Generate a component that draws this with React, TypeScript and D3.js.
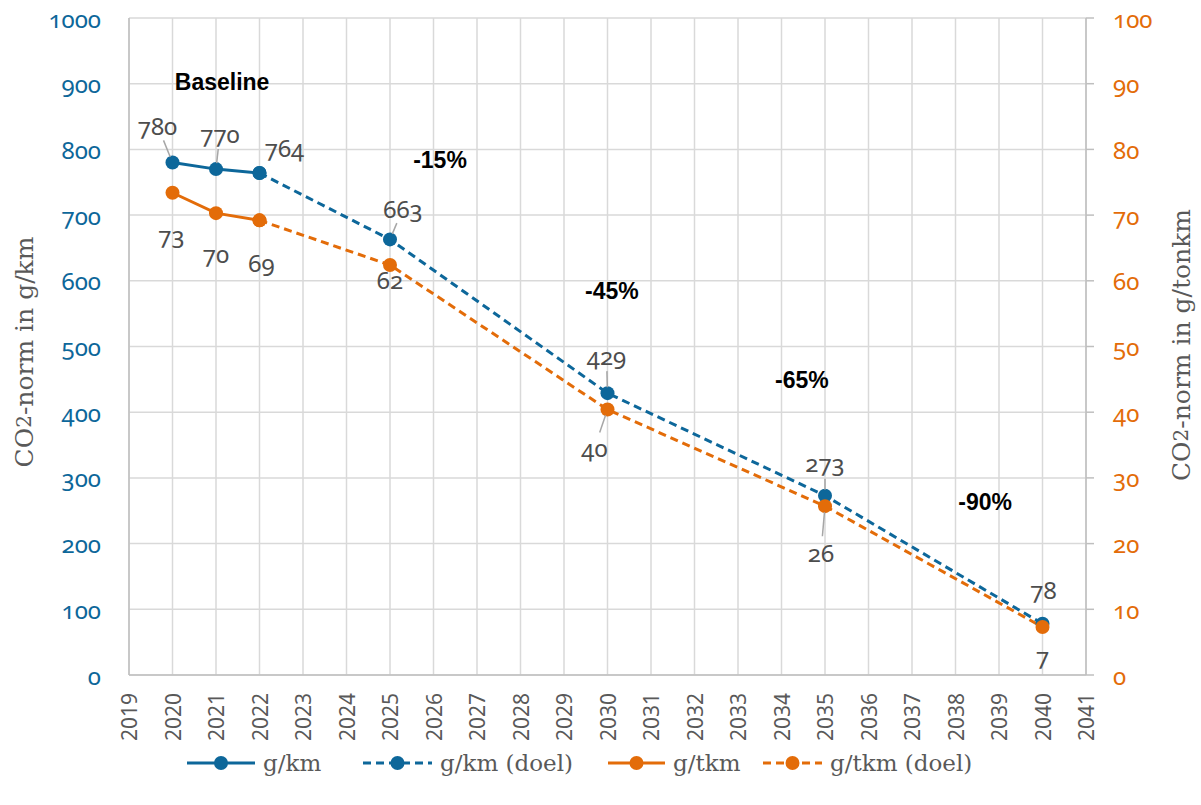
import React from "react";
import * as d3 from "d3";

const years = d3.range(2019, 2042);
const gkmYears = [2020, 2021, 2022];
const gkmValues = [780, 770, 764];
const gkmGoalYears = [2022, 2025, 2030, 2035, 2040];
const gkmGoalValues = [764, 663, 429, 273, 78];
const gtkmYears = [2020, 2021, 2022];
const gtkmValues = [73.4, 70.3, 69.2];
const gtkmGoalYears = [2022, 2025, 2030, 2035, 2040];
const gtkmGoalValues = [69.2, 62.4, 40.4, 25.7, 7.3];
const leftTicks = [0, 100, 200, 300, 400, 500, 600, 700, 800, 900, 1000];
const rightTicks = [0, 10, 20, 30, 40, 50, 60, 70, 80, 90, 100];
const annotations = [
  { year: 2021.14, value: 903, text: "Baseline" },
  { year: 2026.15, value: 784, text: "-15%" },
  { year: 2030.1, value: 584, text: "-45%" },
  { year: 2034.47, value: 449, text: "-65%" },
  { year: 2038.68, value: 263, text: "-90%" },
];
const legendItems = [
  { label: "g/km", color: "blue", dashed: false },
  { label: "g/km (doel)", color: "blue", dashed: true },
  { label: "g/tkm", color: "orange", dashed: false },
  { label: "g/tkm (doel)", color: "orange", dashed: true },
];

// label placement (dx, dy, leader) for each labelled point
const gkmLabelPos: Record<number, [number, number, boolean]> = {
  2020: [-15, -37, true],
  2021: [4, -36, true],
  2022: [25, -26, false],
  2025: [13, -31, true],
  2030: [-1, -38, true],
  2035: [0, -33, true],
  2040: [1, -34, false],
};
const gtkmLabelPos: Record<number, [number, number, boolean]> = {
  2020: [-1, 42, false],
  2021: [0, 40, false],
  2022: [2, 42, false],
  2025: [0, 14, false],
  2030: [-13, 38, true],
  2035: [-4, 46, true],
  2040: [0, 28, false],
};

const BLUE = "#0d679a";
const ORANGE = "#e36c09";
const W = 1201;
const H = 805;
const M = { left: 129, right: 1086, top: 18, bottom: 675 };

export default function App() {
  const x = d3.scaleLinear().domain([2019, 2041]).range([M.left, M.right]);
  const yL = d3.scaleLinear().domain([0, 1000]).range([M.bottom, M.top]);
  const yR = d3.scaleLinear().domain([0, 100]).range([M.bottom, M.top]);
  const lineL = d3.line<[number, number]>().x((d) => x(d[0])).y((d) => yL(d[1]));
  const lineR = d3.line<[number, number]>().x((d) => x(d[0])).y((d) => yR(d[1]));
  const z = <T,>(a: number[], b: T[]) => a.map((v, i) => [v, b[i]] as [number, T]);

  const gkmPts = z(gkmYears, gkmValues);
  const gkmGoalPts = z(gkmGoalYears, gkmGoalValues);
  const gtkmPts = z(gtkmYears, gtkmValues);
  const gtkmGoalPts = z(gtkmGoalYears, gtkmGoalValues);

  const numFont = "'Noto Sans', sans-serif";
  const serif = "'DejaVu Serif', serif";

  const renderLabels = (
    pts: [number, number][],
    y: d3.ScaleLinear<number, number>,
    pos: Record<number, [number, number, boolean]>
  ) =>
    pts.map(([yr, v]) => {
      const p = pos[yr];
      if (!p) return null;
      const px = x(yr);
      const py = y(v);
      const lx = px + p[0];
      const ly = py + p[1];
      const dist = Math.hypot(p[0], p[1]);
      const ux = p[0] / dist;
      const uy = p[1] / dist;
      return (
        <g key={yr}>
          {p[2] && (
            <line
              x1={px + ux * 6}
              y1={py + uy * 6}
              x2={lx - ux * 16}
              y2={ly - uy * 16}
              stroke="#a6a6a6"
              strokeWidth={1.5}
            />
          )}
          <text
            x={lx}
            y={ly}
            textAnchor="middle"
            dominantBaseline="central"
            fontFamily={numFont}
            fontSize={24}
            fill="#4d4d4d"
            style={{ fontVariantNumeric: "oldstyle-nums" }}
          >
            {Math.round(v)}
          </text>
        </g>
      );
    });

  const legendX = [187, 363, 608, 763];
  const legendW = [68, 69, 57, 59];

  return (
    <svg width={W} height={H} style={{ position: "absolute", left: 0, top: 0, background: "#fff" }}>
      {/* grid */}
      {leftTicks.map((t) => (
        <line key={"h" + t} x1={M.left} x2={M.right} y1={yL(t)} y2={yL(t)} stroke="#d9d9d9" strokeWidth={1.5} />
      ))}
      {years.map((yr) => (
        <line key={"v" + yr} x1={x(yr)} x2={x(yr)} y1={M.top} y2={M.bottom} stroke="#d9d9d9" strokeWidth={1.5} />
      ))}
      {/* axes */}
      <line x1={M.left} x2={M.left} y1={M.top} y2={M.bottom} stroke="#bfbfbf" strokeWidth={1.5} />
      <line x1={M.right} x2={M.right} y1={M.top} y2={M.bottom} stroke="#bfbfbf" strokeWidth={1.5} />
      <line x1={M.left} x2={M.right} y1={M.bottom} y2={M.bottom} stroke="#bfbfbf" strokeWidth={1.5} />
      {rightTicks.map((t) => (
        <line key={"rt" + t} x1={M.right} x2={M.right + 8} y1={yR(t)} y2={yR(t)} stroke="#bfbfbf" strokeWidth={1.5} />
      ))}
      {/* left tick labels */}
      {leftTicks.map((t) => (
        <text
          key={"lt" + t}
          x={101}
          y={yL(t)}
          textAnchor="end"
          dominantBaseline="central"
          fontFamily={numFont}
          fontSize={24}
          fill={BLUE}
          style={{ fontVariantNumeric: "oldstyle-nums" }}
        >
          {t}
        </text>
      ))}
      {rightTicks.map((t) => (
        <text
          key={"rl" + t}
          x={1113}
          y={yR(t)}
          textAnchor="start"
          dominantBaseline="central"
          fontFamily={numFont}
          fontSize={24}
          fill={ORANGE}
          style={{ fontVariantNumeric: "oldstyle-nums" }}
        >
          {t}
        </text>
      ))}
      {/* x tick labels */}
      {years.map((yr) => (
        <text
          key={"xl" + yr}
          transform={`translate(${x(yr)},${M.bottom + 18}) rotate(-90)`}
          textAnchor="end"
          dominantBaseline="central"
          fontFamily={numFont}
          fontSize={21}
          fill="#595959"
        >
          {yr}
        </text>
      ))}
      {/* axis titles */}
      <text
        transform={`translate(24,352) rotate(-90)`}
        textAnchor="middle"
        dominantBaseline="central"
        fontFamily={serif}
        fontSize={25}
        fill="#595959"
      >
        CO<tspan fontSize={20}>2</tspan>-norm in g/km
      </text>
      <text
        transform={`translate(1181,345) rotate(-90)`}
        textAnchor="middle"
        dominantBaseline="central"
        fontFamily={serif}
        fontSize={25}
        fill="#595959"
      >
        CO<tspan fontSize={20}>2</tspan>-norm in g/tonkm
      </text>
      {/* lines */}
      <path d={lineL(gkmGoalPts) || ""} fill="none" stroke={BLUE} strokeWidth={3} strokeDasharray="8 5" />
      <path d={lineR(gtkmGoalPts) || ""} fill="none" stroke={ORANGE} strokeWidth={3} strokeDasharray="8 5" />
      <path d={lineL(gkmPts) || ""} fill="none" stroke={BLUE} strokeWidth={3} />
      <path d={lineR(gtkmPts) || ""} fill="none" stroke={ORANGE} strokeWidth={3} />
      {/* markers */}
      {gkmGoalPts.concat(gkmPts).map(([yr, v], i) => (
        <circle key={"bm" + i} cx={x(yr)} cy={yL(v)} r={7} fill={BLUE} />
      ))}
      {gtkmGoalPts.concat(gtkmPts).map(([yr, v], i) => (
        <circle key={"om" + i} cx={x(yr)} cy={yR(v)} r={7} fill={ORANGE} />
      ))}
      {/* data labels */}
      {renderLabels(gkmPts.concat(gkmGoalPts.slice(1)), yL, gkmLabelPos)}
      {renderLabels(gtkmPts.concat(gtkmGoalPts.slice(1)), yR, gtkmLabelPos)}
      {/* annotations */}
      {annotations.map((a) => (
        <text
          key={a.text}
          x={x(a.year)}
          y={yL(a.value)}
          textAnchor="middle"
          dominantBaseline="central"
          fontFamily="'Liberation Sans', Arial, sans-serif"
          fontWeight="bold"
          fontSize={23}
          fill="#000"
        >
          {a.text}
        </text>
      ))}
      {/* legend */}
      {legendItems.map((it, i) => {
        const c = it.color === "blue" ? BLUE : ORANGE;
        const lx = legendX[i];
        const w = legendW[i];
        return (
          <g key={it.label}>
            <line
              x1={lx}
              x2={lx + w}
              y1={763}
              y2={763}
              stroke={c}
              strokeWidth={3}
              strokeDasharray={it.dashed ? "8 5" : undefined}
            />
            <circle cx={lx + w / 2} cy={763} r={7} fill={c} />
            <text
              x={lx + w + 8}
              y={763}
              dominantBaseline="central"
              fontFamily={serif}
              fontSize={23}
              fill="#595959"
            >
              {it.label}
            </text>
          </g>
        );
      })}
    </svg>
  );
}
